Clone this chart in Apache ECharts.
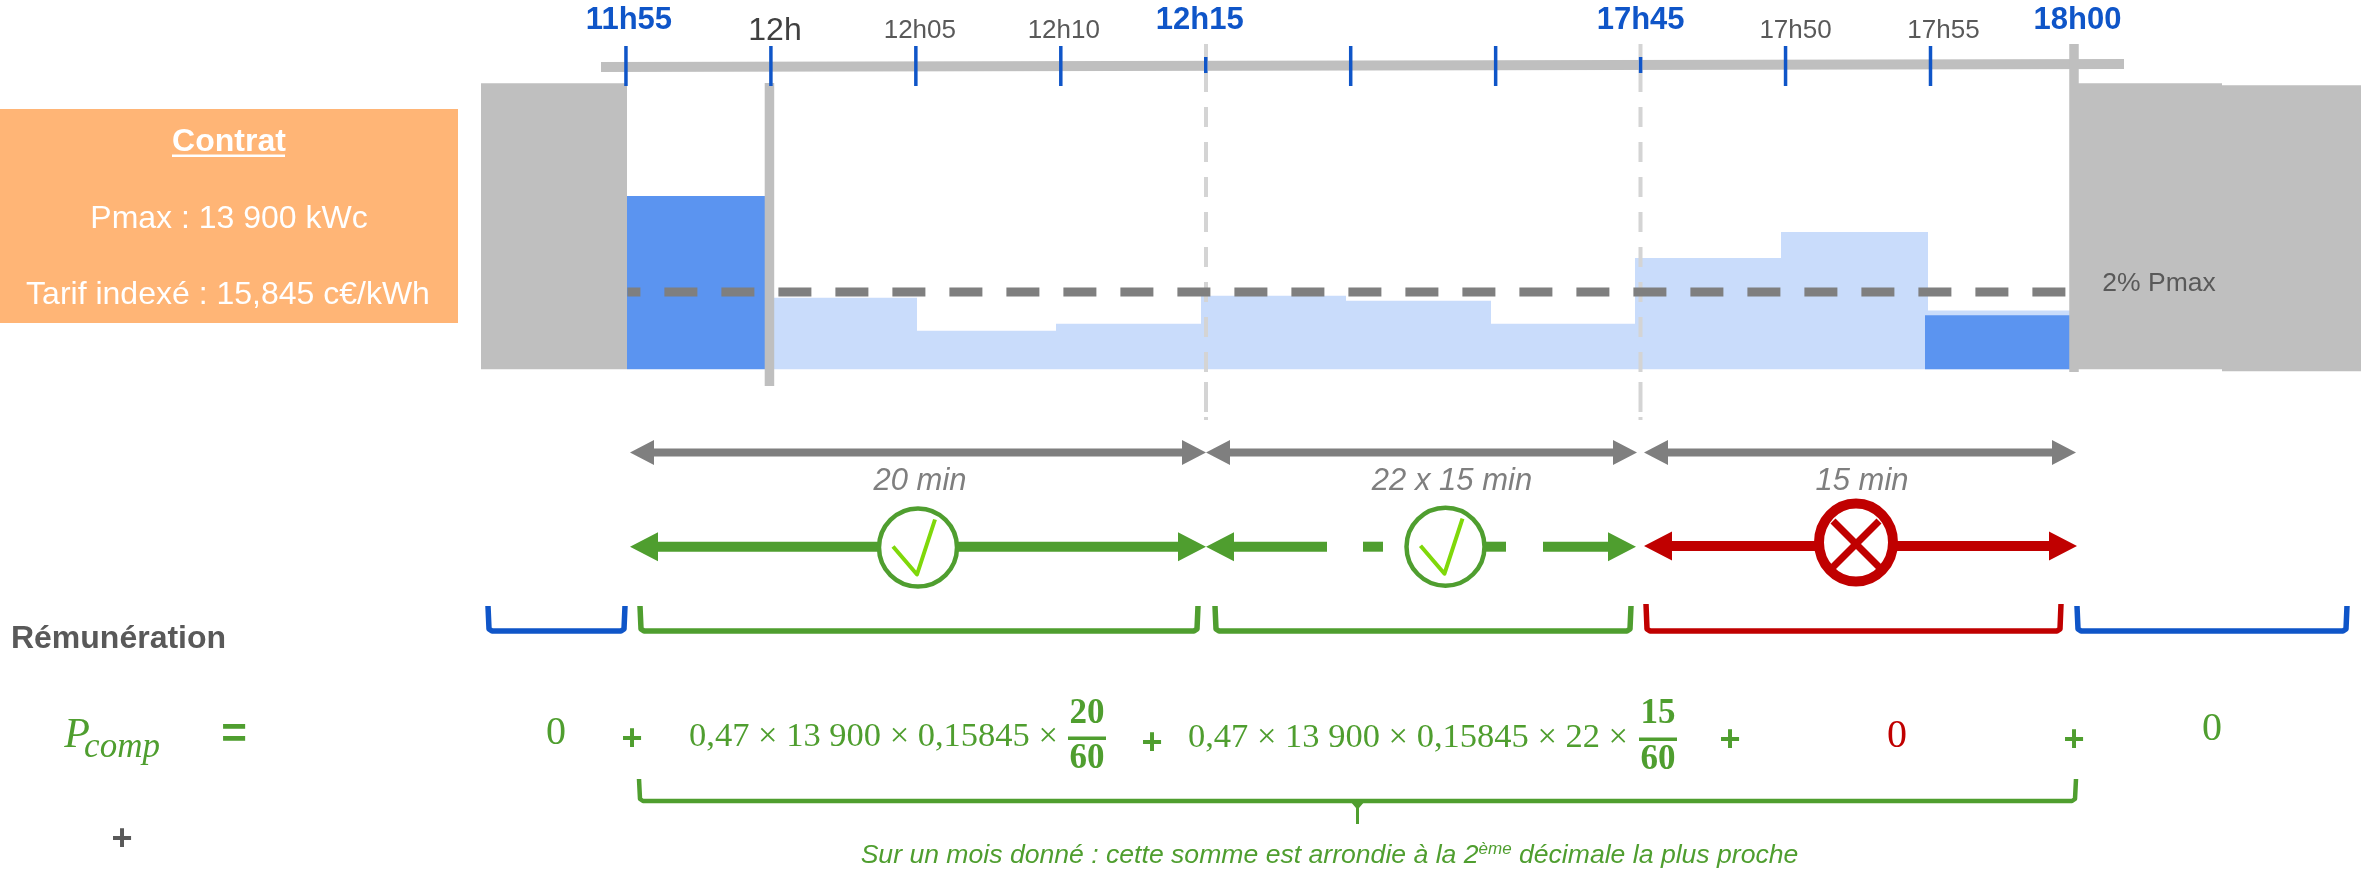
<!DOCTYPE html>
<html><head><meta charset="utf-8">
<style>html,body{margin:0;padding:0;background:#fff}#c{width:2361px;height:869px}</style>
<script src="https://cdn.jsdelivr.net/npm/echarts@6/dist/echarts.min.js"></script>
</head><body><div id="c"></div>
<script>
// ---- data (x unit: one 5-minute slot, 0 = 11h55; y unit: % of Pmax) ----
const lightStart  = [0.96, 2.01, 2.97, 3.97, 4.97, 5.97, 6.96, 7.97, 8.98];
const lightEnd    = [2.01, 2.97, 3.97, 4.97, 5.97, 6.96, 7.97, 8.98, 9.96];
const lightValues = [1.85, 1.00, 1.18, 1.90, 1.77, 1.18, 2.88, 3.55, 1.52];
const darkStart   = [0.01, 8.96];
const darkEnd     = [0.96, 9.96];
const darkValues  = [4.48, 1.40];
const greyStart   = [-1, 10.02, 11.01];
const greyEnd     = [0.01, 11.01, 11.97];
const greyLow     = [0, 0, -0.05];
const greyHigh    = [7.4, 7.4, 7.35];
const thresholdX  = [0.01, 9.96];
const thresholdY  = [2, 2];
const fullTicks   = [0, 1, 2, 3, 5, 6, 8, 9];
const shortTicks  = [4, 7];
const boldLabelSlots = [0, 4, 7, 10];
const boldLabels     = ['11h55', '12h15', '17h45', '18h00'];
const smallLabelSlots = [2, 3, 8, 9];
const smallLabels     = ['12h05', '12h10', '17h50', '17h55'];
const contractLines = ['Contrat', 'Pmax : 13 900 kWc', 'Tarif indexé : 15,845 c€/kWh'];
const durations = ['20 min', '22 x 15 min', '15 min'];
const formulaA = '0,47 × 13 900 × 0,15845 ×';
const formulaB = '0,47 × 13 900 × 0,15845 × 22 ×';
const fractionA = ['20', '60'];
const fractionB = ['15', '60'];

// ---- styles ----
const GREY='#bfbfbf', DGREY='#7f7f7f', TXT='#595959', BLUE='#0f55c8', DARKBAR='#5b94f0', LIGHTBAR='#c9dcfb',
      GREEN='#4f9e2f', RED='#c00000', LIME='#7fd80a', ORANGE='#ffb576';
const SANS='"Liberation Sans", Arial, sans-serif', SERIF='"Liberation Serif", serif';

const chart = echarts.init(document.getElementById('c'), null, {renderer:'canvas'});

function blockRender(color){
  return function(params, api){
    const p0 = api.coord([api.value(0), api.value(2)]);
    const p1 = api.coord([api.value(1), api.value(3)]);
    const x0 = Math.round(p0[0]), x1 = Math.round(p1[0]);
    return {type:'rect', shape:{x:x0, y:p1[1], width:x1-x0, height:p0[1]-p1[1]}, style:{fill:color}};
  };
}
function blockSeries(name, color, rows, z){
  return {name, type:'custom', z, data:rows, encode:{x:[0,1], y:[2,3]}, renderItem:blockRender(color), silent:true};
}
function tickSeries(name, slots, y0, y1){
  return {name, type:'custom', z:6, silent:true, data:slots.map(s=>[s]), encode:{x:0},
    renderItem(params, api){
      const x = api.coord([api.value(0), 0])[0];
      return {type:'line', shape:{x1:x,y1:y0,x2:x,y2:y1}, style:{stroke:BLUE,lineWidth:3.5}};
    }};
}
function labelSeries(name, slots, texts, dx, y, size, bold, color){
  return {name, type:'custom', z:7, silent:true, data:slots.map(s=>[s]), encode:{x:0},
    renderItem(params, api){
      const x = api.coord([api.value(0), 0])[0];
      return {type:'text', style:{text:texts[params.dataIndex], x:x+dx[params.dataIndex], y, align:'center', verticalAlign:'middle',
        fontFamily:SANS, fontSize:size, fontWeight:bold?'bold':'normal', fill:color}};
    }};
}
function ruleSeries(name, slot, y0, y1){
  return {name, type:'custom', z:5, silent:true, data:[[slot]], encode:{x:0},
    renderItem(params, api){
      const x = api.coord([api.value(0), 0])[0];
      return {type:'line', shape:{x1:x,y1:y0,x2:x,y2:y1}, style:{stroke:GREY,lineWidth:9.5}};
    }};
}

// ---- annotation helpers ----
const G = [];
function txt(text,x,y,size,color,o){ o=o||{};
  G.push({type:'text', z:o.z||10, style:{text,x,y,align:o.align||'center',verticalAlign:'middle',
    fontFamily:o.family||SANS,fontSize:size,fontWeight:o.bold?'bold':'normal',fontStyle:o.italic?'italic':'normal',fill:color}});
}
function arrow(x1,x2,y,th,hl,hh,color){
  const t=th/2,h=hh/2;
  G.push({type:'polygon', z:10, shape:{points:[[x1,y],[x1+hl,y-h],[x1+hl,y-t],[x2-hl,y-t],[x2-hl,y-h],[x2,y],[x2-hl,y+h],[x2-hl,y+t],[x1+hl,y+t],[x1+hl,y+h]]}, style:{fill:color}});
}
function leftArrow(x1,x2,y,th,hl,hh,color){
  const t=th/2,h=hh/2;
  G.push({type:'polygon', z:10, shape:{points:[[x1,y],[x1+hl,y-h],[x1+hl,y-t],[x2,y-t],[x2,y+t],[x1+hl,y+t],[x1+hl,y+h]]}, style:{fill:color}});
}
function rightArrow(x1,x2,y,th,hl,hh,color){
  const t=th/2,h=hh/2;
  G.push({type:'polygon', z:10, shape:{points:[[x2,y],[x2-hl,y-h],[x2-hl,y-t],[x1,y-t],[x1,y+t],[x2-hl,y+t],[x2-hl,y+h]]}, style:{fill:color}});
}
function rect(x,y,w,h,color,z){ G.push({type:'rect', z:z||10, shape:{x,y,width:w,height:h}, style:{fill:color}}); }
function poly(points,color,w,z){ G.push({type:'polyline', z:z||10, shape:{points}, style:{stroke:color,lineWidth:w,fill:'none',lineJoin:'round'}}); }
function bracket(x1,x2,top,color){
  poly([[x1,top],[x1+1,629],[x1+4,631],[x2-4,631],[x2-1,629],[x2,top]],color,5.5);
}
function check(cx,cy){
  G.push({type:'circle', z:11, shape:{cx,cy,r:39}, style:{fill:'#fff',stroke:GREEN,lineWidth:4.5}});
  poly([[cx-25,cy-1],[cx-1,cy+27],[cx+17,cy-28]],LIME,4,12);
}
function fraction(cx,texts,barY,y0,y1){
  txt(texts[0],cx,y0,35,GREEN,{family:SERIF,bold:true});
  rect(cx-19,barY-1.5,38,3.5,GREEN);
  txt(texts[1],cx,y1,35,GREEN,{family:SERIF,bold:true});
}

// orange contract box
rect(0,109,458,214,ORANGE,3);
txt(contractLines[0],229,142,32,'#fff',{bold:true});
rect(172,154.5,113,2.5,'#fff');
txt(contractLines[1],229,219,32,'#fff');
txt(contractLines[2],228,295,32,'#fff');

// timeline bar
G.push({type:'line', z:1, shape:{x1:601,y1:67,x2:2124,y2:64}, style:{stroke:GREY,lineWidth:10}});
// vertical dashed guides
[1206,1640.5].forEach(x=>{
  G.push({type:'line', z:4, shape:{x1:x,y1:44,x2:x,y2:92}, style:{stroke:'#d4d4d4',lineWidth:4}});
  G.push({type:'line', z:4, shape:{x1:x,y1:107,x2:x,y2:372}, style:{stroke:'#d4d4d4',lineWidth:4,lineDash:[20,15]}});
  G.push({type:'line', z:4, shape:{x1:x,y1:382,x2:x,y2:412}, style:{stroke:'#d4d4d4',lineWidth:4}});
  G.push({type:'line', z:4, shape:{x1:x,y1:417,x2:x,y2:420}, style:{stroke:'#d4d4d4',lineWidth:4}});
});
txt('2% Pmax',2159,284,26.5,TXT,{z:10});
txt('12h',775,31,32,'#404040');

// duration arrows
arrow(630,1206,452.5,8,24,25,DGREY);
arrow(1206,1637,452.5,8,24,25,DGREY);
arrow(1644,2076,452.5,8,24,25,DGREY);
txt(durations[0],920,481,31,DGREY,{italic:true});
txt(durations[1],1452,481,31,DGREY,{italic:true});
txt(durations[2],1862,481,31,DGREY,{italic:true});

// status arrows
arrow(630,1206,546.7,10,28,29,GREEN);
check(918,547.5);
leftArrow(1206,1327,546.7,10,28,29,GREEN);
rect(1363,541.7,20,10,GREEN);
rect(1485,541.7,21,10,GREEN);
rightArrow(1543,1636,546.7,10,28,29,GREEN);
check(1445.5,546.7);
arrow(1644,2077,546,10,28,29,RED);
G.push({type:'ellipse', z:11, shape:{cx:1856,cy:542.5,rx:37,ry:39}, style:{fill:'#fff',stroke:RED,lineWidth:10}});
poly([[1833,521],[1879,567]],RED,7,12);
poly([[1879,521],[1833,567]],RED,7,12);

// brackets
bracket(488,625,606,BLUE);
bracket(640,1198,606,GREEN);
bracket(1215,1631,606,GREEN);
bracket(1646,2061,604,RED);
bracket(2077,2347,606,BLUE);

// formula row
txt('Rémunération',118.5,639.5,32,TXT,{bold:true});
txt('P',77,736,42,GREEN,{family:SERIF,italic:true});
txt('comp',122,748,35,GREEN,{family:SERIF,italic:true});
txt('=',234,736,44,GREEN,{bold:true});
txt('0',556,733,40,GREEN,{family:SERIF});
txt('+',632,740,36,GREEN,{bold:true});
txt(formulaA,873.5,737,34.5,GREEN,{family:SERIF});
fraction(1087,fractionA,738,713.5,759);
txt('+',1152,744,36,GREEN,{bold:true});
txt(formulaB,1408,738,34.5,GREEN,{family:SERIF});
fraction(1658,fractionB,739,713.5,760);
txt('+',1730,741,36,GREEN,{bold:true});
txt('0',1897,736,40,RED,{family:SERIF});
txt('+',2074,741,36,GREEN,{bold:true});
txt('0',2212,729,40,GREEN,{family:SERIF});
txt('+',122,840,36,TXT,{bold:true});

// big brace
poly([[639,779],[640,799],[643,801],[2072,801],[2075,799],[2076,779]],GREEN,4.5);
G.push({type:'polygon', z:10, shape:{points:[[1350,801],[1365,801],[1359,808],[1359,824],[1356,824],[1356,808]]}, style:{fill:GREEN}});
G.push({type:'text', z:10, style:{
  text:'{a|Sur un mois donné : cette somme est arrondie à la 2}{b|ème}{a| décimale la plus proche}',
  x:1329.5,y:853,align:'center',verticalAlign:'middle',
  rich:{a:{fontFamily:SANS,fontSize:26.6,fontStyle:'italic',fill:GREEN,lineHeight:32,verticalAlign:'bottom'},
        b:{fontFamily:SANS,fontSize:17,fontStyle:'italic',fill:GREEN,lineHeight:20,verticalAlign:'top',padding:[4,0,0,0]}}}});

const zip = (...c)=>c[0].map((_,i)=>c.map(a=>a[i]));
chart.setOption({
  animation:false,
  backgroundColor:'#fff',
  grid:{left:481,right:0,top:79.4,bottom:480.4,containLabel:false},
  xAxis:{type:'value',min:-1,max:11.97,show:false},
  yAxis:{type:'value',min:-0.5,max:7.5,show:false},
  graphic:{elements:G},
  series:[
    blockSeries('Production sous le seuil',LIGHTBAR,zip(lightStart,lightEnd,lightStart.map(()=>0),lightValues),2),
    blockSeries('Production retenue',DARKBAR,zip(darkStart,darkEnd,darkStart.map(()=>0),darkValues),3),
    {name:'2% Pmax',type:'line',z:4,silent:true,symbol:'none',data:zip(thresholdX,thresholdY),
      lineStyle:{color:DGREY,width:9,type:[33,24],dashOffset:20}},
    blockSeries('Hors période',GREY,zip(greyStart,greyEnd,greyLow,greyHigh),5),
    ruleSeries('12h',0.99,83,386),
    ruleSeries('18h00',9.99,44,372),
    tickSeries('Repères',fullTicks,46,86),
    tickSeries('Repères courts',shortTicks,57,73),
    labelSeries('Heures clés',boldLabelSlots,boldLabels,[3,-6,0,2],20.5,31,true,BLUE),
    labelSeries('Heures',smallLabelSlots,smallLabels,[4,3,10,13],31,26,false,TXT)
  ]
});
</script></body></html>
